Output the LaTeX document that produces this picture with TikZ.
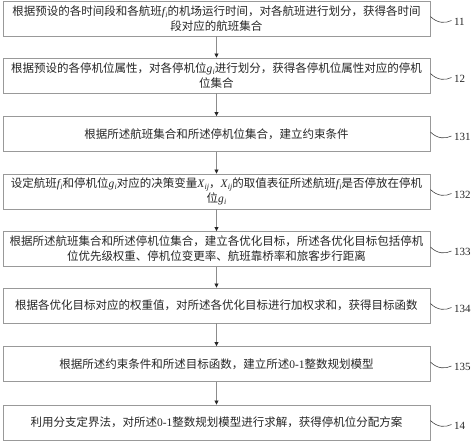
\documentclass[tikz,border=0pt]{standalone}
\usepackage{fontspec}
\setmainfont{Noto Sans CJK SC}
\newfontfamily\lser{Liberation Serif}
\newcommand\latv[2]{{\lser\itshape #1\kern0.3pt\raisebox{-0.35ex}{\fontsize{8}{8}\selectfont #2}}}
\usetikzlibrary{arrows.meta}
\begin{document}
\begin{tikzpicture}[x=1pt,y=-1pt,
  stepbox/.style={draw=black!40,line width=0.9pt,minimum width=427pt,minimum height=35pt,
    align=center,inner sep=0pt,font=\fontsize{11.5}{15}\selectfont,text=black!85},
  flow/.style={draw=black!45,line width=0.8pt,-{Triangle[length=4pt,width=4pt,color=black!85]}},
  tag/.style={draw=black!75,line width=0.6pt},
  tagtext/.style={anchor=west,inner sep=0pt,font=\lser\fontsize{11}{13}\selectfont,text=black!85}]
\useasboundingbox (0,0) rectangle (474,442);
\fill[white] (0,0) rectangle (474,442);
\def\cx{216.5}
\node[stepbox] (b1) at (\cx,18.5) {根据预设的各时间段和各航班\latv{f}{i}的机场运行时间，对各航班进行划分，获得各时间\\段对应的航班集合};
\node[stepbox] (b2) at (\cx,75.5) {根据预设的各停机位属性，对各停机位\latv{g}{i}进行划分，获得各停机位属性对应的停机\\位集合};
\node[stepbox] (b3) at (\cx,134) {根据所述航班集合和所述停机位集合，建立约束条件};
\node[stepbox] (b4) at (\cx,191.5) {设定航班\latv{f}{i}和停机位\latv{g}{i}对应的决策变量\latv{X}{ij}，\latv{X}{ij}的取值表征所述航班\latv{f}{i}是否停放在停机\\位\latv{g}{i}};
\node[stepbox] (b5) at (\cx,249) {根据所述航班集合和所述停机位集合，建立各优化目标，所述各优化目标包括停机\\位优先级权重、停机位变更率、航班靠桥率和旅客步行距离};
\node[stepbox] (b6) at (\cx,305.5) {根据各优化目标对应的权重值，对所述各优化目标进行加权求和，获得目标函数};
\node[stepbox] (b7) at (\cx,364) {根据所述约束条件和所述目标函数，建立所述{\lser 0-1}整数规划模型};
\node[stepbox] (b8) at (\cx,422.5) {利用分支定界法，对所述{\lser 0-1}整数规划模型进行求解，获得停机位分配方案};
\foreach \a/\b in {b1/b2,b2/b3,b3/b4,b4/b5,b5/b6,b6/b7,b7/b8}
  \draw[flow] (\a.south) -- (\b.north);
\foreach \n/\t in {b1/11,b2/12,b3/131,b4/132,b5/133,b6/134,b7/135,b8/14}{
  \coordinate (\n s) at ([yshift=2pt]\n.east);
  \coordinate (\n e) at ([xshift=21pt,yshift=-2pt]\n.east);
  \draw[tag] (\n s) .. controls +(7,7) and +(-6,3) .. (\n e);
  \node[tagtext] (\n t) at ([xshift=2.5pt,yshift=-1pt]\n e) {\t};
}
\end{tikzpicture}
\end{document}
